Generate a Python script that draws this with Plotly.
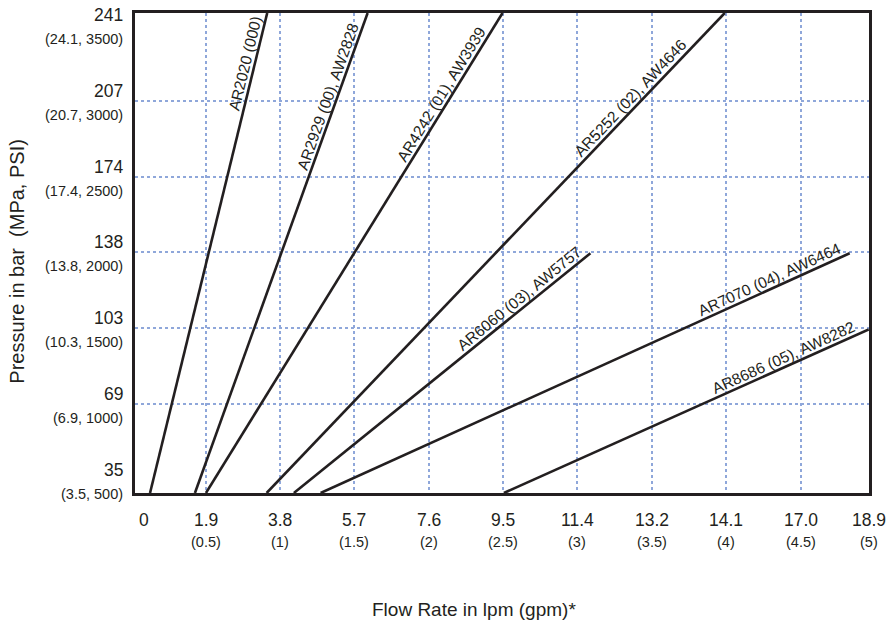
import math
import plotly.graph_objects as go

# ---------------- data ----------------
series_names = [
    "AR2020 (000)",
    "AR2929 (00), AW2828",
    "AR4242 (01), AW3939",
    "AR5252 (02), AW4646",
    "AR6060 (03), AW5757",
    "AR7070 (04), AW6464",
    "AR8686 (05), AW8282",
]
# each line: start point (gpm, psi) -> end point (gpm, psi)
start_gpm = [0.126, 0.428, 0.502, 0.910, 1.093, 1.273, 2.505]
start_psi = [411, 411, 411, 411, 411, 411, 411]
end_gpm = [0.914, 1.589, 2.496, 3.990, 3.087, 4.830, 4.958]
end_psi = [3582, 3582, 3582, 3582, 1995, 1995, 1492]

x_tick_gpm = [0, 0.5, 1.0, 1.5, 2.0, 2.5, 3.0, 3.5, 4.0, 4.5, 5.0]
x_tick_lpm_text = ["0", "1.9", "3.8", "5.7", "7.6", "9.5", "11.4", "13.2", "14.1", "17.0", "18.9"]
x_tick_gpm_text = ["", "(0.5)", "(1)", "(1.5)", "(2)", "(2.5)", "(3)", "(3.5)", "(4)", "(4.5)", "(5)"]

y_tick_psi = [500, 1000, 1500, 2000, 2500, 3000, 3500]
y_tick_bar_text = ["35", "69", "103", "138", "174", "207", "241"]
y_tick_sub_text = ["(3.5, 500)", "(6.9, 1000)", "(10.3, 1500)", "(13.8, 2000)",
                   "(17.4, 2500)", "(20.7, 3000)", "(24.1, 3500)"]

x_grid_gpm = [0.5, 1.0, 1.5, 2.0, 2.5, 3.0, 3.5, 4.0, 4.5]
y_grid_psi = [1000, 1500, 2000, 2500, 3000]

# ---------------- layout constants ----------------
W, H = 888, 623
ML, MR, MT, MB = 135, 19, 10, 130
XMIN, XMAX = 0.025, 4.96
YMIN, YMAX = 411, 3582
PLOT_W = W - ML - MR
PLOT_H = H - MT - MB
PX_PER_X = PLOT_W / (XMAX - XMIN)
PX_PER_Y = PLOT_H / (YMAX - YMIN)

FONT = "Liberation Sans, Arial, Helvetica, sans-serif"
INK = "#231f20"
GRID = "#8fa7da"

# where along each line its label sits (fraction of the line length)
label_frac = [0.89, 0.82, 0.82, 0.81, 0.78, 0.855, 0.777]
LABEL_OFFSET = 9.5  # px, perpendicular above the line

fig = go.Figure()

annotations = []
for name, x0, y0, x1, y1, t in zip(series_names, start_gpm, start_psi, end_gpm, end_psi, label_frac):
    fig.add_trace(go.Scatter(
        x=[x0, x1], y=[y0, y1], mode="lines",
        line=dict(color=INK, width=2.6), showlegend=False, hoverinfo="skip",
        cliponaxis=True,
    ))
    dxp = (x1 - x0) * PX_PER_X
    dyp = (y1 - y0) * PX_PER_Y
    theta = math.atan2(dyp, dxp)
    ax = x0 + t * (x1 - x0)
    ay = y0 + t * (y1 - y0)
    annotations.append(dict(
        x=ax, y=ay, xref="x", yref="y", text=name, showarrow=False,
        textangle=-math.degrees(theta),
        xshift=-LABEL_OFFSET * math.sin(theta), yshift=LABEL_OFFSET * math.cos(theta),
        font=dict(family=FONT, size=15.5, color=INK),
        xanchor="center", yanchor="middle",
    ))

# y tick labels
for v, main, sub in zip(y_tick_psi, y_tick_bar_text, y_tick_sub_text):
    annotations.append(dict(x=0, y=v, xref="paper", yref="y", text=main, showarrow=False,
                            xanchor="right", yanchor="middle", xshift=-10, yshift=10,
                            font=dict(family=FONT, size=17.5, color=INK)))
    annotations.append(dict(x=0, y=v, xref="paper", yref="y", text=sub, showarrow=False,
                            xanchor="right", yanchor="middle", xshift=-10, yshift=-14,
                            font=dict(family=FONT, size=14.5, color=INK)))

# x tick labels
for v, main, sub in zip(x_tick_gpm, x_tick_lpm_text, x_tick_gpm_text):
    pos = min(max(v, XMIN), XMAX)
    anchor = "left" if v < XMIN else "center"
    shift = 2 if v < XMIN else 0
    annotations.append(dict(x=pos, y=0, xref="x", yref="paper", text=main, showarrow=False,
                            xanchor=anchor, yanchor="middle", xshift=shift, yshift=-27,
                            font=dict(family=FONT, size=17.5, color=INK)))
    if sub:
        annotations.append(dict(x=pos, y=0, xref="x", yref="paper", text=sub, showarrow=False,
                                xanchor="center", yanchor="middle", yshift=-49,
                                font=dict(family=FONT, size=14.5, color=INK)))

# axis titles
annotations.append(dict(x=(474 - ML) / PLOT_W, y=0, xref="paper", yref="paper",
                        text="Flow Rate in lpm (gpm)*", showarrow=False,
                        xanchor="center", yanchor="middle", yshift=-116,
                        font=dict(family=FONT, size=19, color=INK)))
annotations.append(dict(x=0, y=0.482, xref="paper", yref="paper",
                        text="Pressure in bar&nbsp;&nbsp;(MPa, PSI)", showarrow=False,
                        textangle=-90, xanchor="center", yanchor="middle", xshift=-(ML - 17),
                        font=dict(family=FONT, size=20, color=INK)))

axis_common = dict(
    showticklabels=False, ticks="", showgrid=True, gridcolor=GRID, gridwidth=2,
    griddash="dot", zeroline=False, showline=True, mirror=True,
    linecolor=INK, linewidth=3, fixedrange=True,
)

fig.update_layout(
    width=W, height=H,
    margin=dict(l=ML, r=MR, t=MT, b=MB, pad=0),
    paper_bgcolor="white", plot_bgcolor="white",
    xaxis=dict(range=[XMIN, XMAX], tickmode="array", tickvals=x_grid_gpm, **axis_common),
    yaxis=dict(range=[YMIN, YMAX], tickmode="array", tickvals=y_grid_psi, **axis_common),
    annotations=annotations,
    showlegend=False,
    font=dict(family=FONT, color=INK),
)

fig.write_html(
    "out.html",
    config={"displayModeBar": False},
    post_script="document.body.style.margin='0';document.body.style.overflow='hidden';",
)
